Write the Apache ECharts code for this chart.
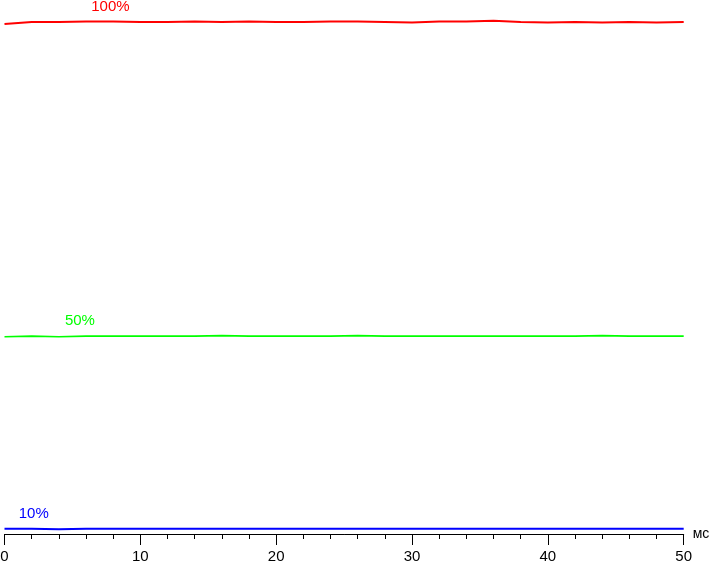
<!DOCTYPE html>
<html>
<head>
<meta charset="utf-8">
<script src="https://cdn.jsdelivr.net/npm/echarts@6/dist/echarts.min.js"></script>
<style>html,body{margin:0;padding:0;background:#fff}#c{width:711px;height:562px}</style>
</head>
<body>
<div id="c"></div>
<script>
// time in ms (every 2 ms)
const times = [0,2,4,6,8,10,12,14,16,18,20,22,24,26,28,30,32,34,36,38,40,42,44,46,48,50];
// relative brightness levels (arbitrary units, 0..100)
const red100 = [97.7,98.1,98.1,98.2,98.2,98.1,98.1,98.2,98.1,98.2,98.1,98.1,98.2,98.2,98.1,98.0,98.2,98.2,98.3,98.1,98.0,98.1,98.0,98.1,98.0,98.1];
const green50 = [37.8,37.9,37.8,37.9,37.9,37.9,37.9,37.9,38.0,37.9,37.9,37.9,37.9,38.0,37.9,37.9,37.9,37.9,37.9,37.9,37.9,37.9,38.0,37.9,37.9,37.9];
const blue10 = [1.0,1.0,0.9,1.0,1.0,1.0,1.0,1.0,1.0,1.0,1.0,1.0,1.0,1.0,1.0,1.0,1.0,1.0,1.0,1.0,1.0,1.0,1.0,1.0,1.0,1.0];
const seriesNames = ['100%','50%','10%'];
const labelX = [7.8, 5.55, 2.15];
const xTicks = {min:0, max:50, interval:10};

const pairs = arr => times.map((t,i)=>[t,arr[i]]);
const colors = ['#ff0000','#00ff00','#0000ff'];
const widths = [2,1.6,2];
const vals = [red100, green50, blue10];

const chart = echarts.init(document.getElementById('c'));
chart.setOption({
  animation:false,
  grid:{left:4.5, right:27.3, top:12, bottom:28, containLabel:false, outerBoundsMode:'none'},
  xAxis:{
    type:'value', min:xTicks.min, max:xTicks.max, interval:xTicks.interval,
    name:'мс', nameLocation:'end', nameGap:9,
    nameTextStyle:{color:'#000', fontSize:14, fontFamily:'Liberation Sans', verticalAlign:'middle'},
    axisLine:{show:true, lineStyle:{color:'#000', width:1}},
    axisTick:{show:true, length:11, lineStyle:{color:'#000'}},
    minorTick:{show:true, splitNumber:5, length:5, lineStyle:{color:'#000'}},
    axisLabel:{color:'#000', fontSize:15, fontFamily:'Liberation Sans', margin:15},
    splitLine:{show:false}
  },
  yAxis:{type:'value', min:0, max:100, show:false, splitLine:{show:false}},
  series: vals.map((v,i)=>({
    type:'line', name:seriesNames[i], data:pairs(v), showSymbol:false, symbol:'none',
    lineStyle:{color:colors[i], width:widths[i]},
    markPoint:{
      symbol:'circle', symbolSize:0, silent:true,
      data:[{coord:[labelX[i], v[Math.round(labelX[i]/2)]]}],
      label:{show:true, formatter:seriesNames[i], position:'inside', offset:[0,-15],
        color:colors[i], fontSize:15, fontFamily:'Liberation Sans'}
    }
  }))
});
</script>
</body>
</html>
